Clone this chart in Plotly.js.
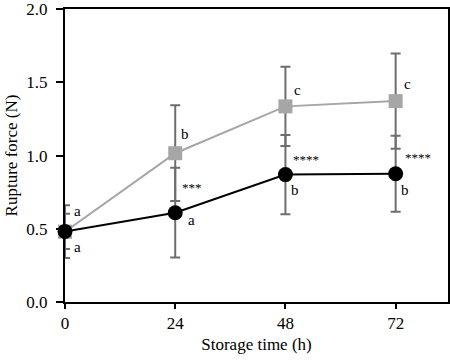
<!DOCTYPE html>
<html>
<head>
<meta charset="utf-8">
<script src="https://cdn.plot.ly/plotly-3.0.1.min.js"></script>
<style>html,body{margin:0;padding:0;background:#fff;}#chart{width:450px;height:361px;}</style>
</head>
<body>
<div id="chart"></div>
<script>
var hours = [0, 24, 48, 72];
var grayValues = [0.48, 1.016, 1.336, 1.372];
var grayErrors = [0.18, 0.327, 0.27, 0.325];
var blackValues = [0.482, 0.61, 0.87, 0.876];
var blackErrors = [0.12, 0.306, 0.27, 0.26];
var grayLetters = ["a", "b", "c", "c"];
var blackLetters = ["a", "a", "b", "b"];
var stars = ["", "***", "****", "****"];
var yTicks = [0, 0.5, 1.0, 1.5, 2.0];

var serif = "Liberation Serif";
var errColor = "#6e6e6e";
var traces = [
  {
    x: hours, y: grayValues, type: "scatter", mode: "lines+markers",
    line: {color: "#a6a6a6", width: 2},
    marker: {symbol: "square", size: 14, color: "#a6a6a6"},
    error_y: {type: "data", array: grayErrors, visible: true, color: errColor, thickness: 2, width: 5},
    cliponaxis: false, showlegend: false
  },
  {
    x: hours, y: blackValues, type: "scatter", mode: "lines+markers",
    line: {color: "#000000", width: 2},
    marker: {symbol: "circle", size: 15, color: "#000000"},
    error_y: {type: "data", array: blackErrors, visible: true, color: errColor, thickness: 2, width: 5},
    cliponaxis: false, showlegend: false
  }
];

var font = {family: serif, size: 15, color: "#000"};
var starFont = {family: serif, size: 13, color: "#000"};
// pixel offsets of the labels from their points
var grayShift = [[12, 21], [10, 19], [12, 16], [12, 17]];
var blackShift = [[12, -16], [16, -7], [10, -15], [9, -16]];
var starShift = [[0, 0], [17, 25], [21, 15], [22, 16]];
var annotations = [];
for (var i = 0; i < hours.length; i++) {
  annotations.push({x: hours[i], y: grayValues[i], text: grayLetters[i], showarrow: false, xshift: grayShift[i][0], yshift: grayShift[i][1], font: font});
  annotations.push({x: hours[i], y: blackValues[i], text: blackLetters[i], showarrow: false, xshift: blackShift[i][0], yshift: blackShift[i][1], font: font});
  if (stars[i]) {
    annotations.push({x: hours[i], y: blackValues[i], text: stars[i], showarrow: false, xshift: starShift[i][0], yshift: starShift[i][1], font: starFont});
  }
}

var layout = {
  width: 450, height: 361,
  margin: {l: 65, r: 2, t: 9, b: 59},
  paper_bgcolor: "#fff", plot_bgcolor: "#fff",
  font: {family: serif, size: 17, color: "#000"},
  xaxis: {
    range: [0, 83.4], tickvals: hours, ticktext: hours.map(String),
    showgrid: false, zeroline: false,
    showline: true, linecolor: "#000", linewidth: 2, mirror: true,
    ticks: "outside", ticklen: 5, tickwidth: 2, tickcolor: "#000",
    tickfont: {family: serif, size: 17},
    title: {text: "Storage time (h)", font: {family: serif, size: 17}, standoff: 6}
  },
  yaxis: {
    range: [0, 2.001], tickvals: yTicks, tickformat: ".1f",
    showgrid: false, zeroline: false,
    showline: true, linecolor: "#000", linewidth: 2, mirror: true,
    ticks: "outside", ticklen: 7, tickwidth: 2, tickcolor: "#000",
    ticklabelstandoff: 5, ticklabeloverflow: "allow",
    tickfont: {family: serif, size: 17},
    title: {text: "Rupture force (N)", font: {family: serif, size: 17}, standoff: 4}
  },
  annotations: annotations
};

Plotly.newPlot("chart", traces, layout, {staticPlot: true, displayModeBar: false});
</script>
</body>
</html>
